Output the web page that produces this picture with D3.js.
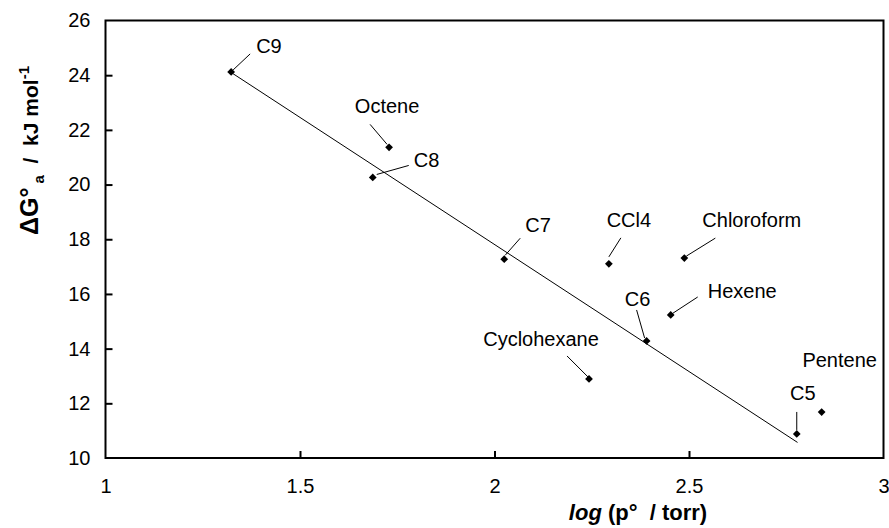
<!DOCTYPE html>
<html>
<head>
<meta charset="utf-8">
<script src="https://cdn.jsdelivr.net/npm/d3@7"></script>
<style>
  body { margin: 0; background: #fff; }
  svg { display: block; font-family: "Liberation Sans", Arial, sans-serif; }
</style>
</head>
<body>
<svg width="889" height="528"></svg>
<script>
// compounds and values
const compounds = ['C9', 'Octene', 'C8', 'C7', 'CCl4', 'Chloroform', 'Hexene', 'C6', 'Cyclohexane', 'C5', 'Pentene'];
const logP = [1.323, 1.729, 1.687, 2.025, 2.294, 2.488, 2.453, 2.391, 2.243, 2.777, 2.841];
const deltaG = [24.12, 21.36, 20.26, 17.27, 17.10, 17.31, 15.23, 14.28, 12.89, 10.88, 11.68];

// straight line drawn through the alkanes
const trendX = [1.323, 2.779];
const trendY = [24.1, 10.57];

const xTicks = [1, 1.5, 2, 2.5, 3];
const yTicks = [10, 12, 14, 16, 18, 20, 22, 24, 26];

// label placement, pixels relative to each point:
// [text x, text baseline, anchor, leader start dx, dy, leader end dx, dy]
const labelLayout = [
  [25, -19, 'start', 2, -2, 19, -18],
  [-2, -34, 'middle', -2, -3, -19, -23],
  [41, -10, 'start', 4, -3, 36, -12],
  [21, -27, 'start', 1, -4, 16, -21],
  [20, -37, 'middle', 0, -7, 12, -26],
  [18, -31, 'start', 2, -2, 31, -20],
  [37, -17, 'start', 1, -1, 27, -18],
  [-9, -35, 'middle', -2, -3, -10, -31],
  [-48, -33, 'middle', -1, -2, -22, -23],
  [6, -34, 'middle', 0, -4, 0, -22],
  [18, -45, 'middle', null, null, null, null]
];

const svg = d3.select('svg');

const x = d3.scaleLinear().domain([1, 3]).range([105.5, 883.5]);
const y = d3.scaleLinear().domain([10, 26]).range([458, 20.5]);

// axes with inward ticks
const xAxis = d3.axisBottom(x).tickValues(xTicks).tickSize(-7).tickPadding(35)
  .tickFormat(d3.format('~g'));
const yAxis = d3.axisLeft(y).tickValues(yTicks).tickSize(-7).tickPadding(15);

const gx = svg.append('g').attr('transform', `translate(0,${y(10)})`).call(xAxis);
const gy = svg.append('g').attr('transform', `translate(${x(1)},0)`).call(yAxis);

[gx, gy].forEach(g => {
  g.select('.domain').remove();
  g.selectAll('.tick line').attr('stroke', '#000').attr('stroke-width', 2);
  g.selectAll('.tick text')
    .attr('fill', '#000')
    .style('font-size', '20px')
    .style('font-family', '"Liberation Sans", Arial, sans-serif');
});
gx.selectAll('.tick text').attr('dy', '0');
gx.selectAll('.tick line').filter(d => d === 1 || d === 3).remove();
gy.selectAll('.tick line').filter(d => d === 10 || d === 26).remove();

// frame
svg.append('rect')
  .attr('x', x(1))
  .attr('y', y(26))
  .attr('width', x(3) - x(1))
  .attr('height', y(10) - y(26))
  .attr('fill', 'none')
  .attr('stroke', '#000')
  .attr('stroke-width', 2);

// trend line
svg.append('line')
  .attr('x1', x(trendX[0]))
  .attr('y1', y(trendY[0]))
  .attr('x2', x(trendX[1]))
  .attr('y2', y(trendY[1]))
  .attr('stroke', '#000')
  .attr('stroke-width', 1);

const pts = compounds.map((name, i) => ({ name, x: logP[i], y: deltaG[i], lay: labelLayout[i] }));

// leader lines
svg.append('g')
  .selectAll('line')
  .data(pts.filter(d => d.lay[3] !== null))
  .enter()
  .append('line')
  .attr('x1', d => x(d.x) + d.lay[3])
  .attr('y1', d => y(d.y) + d.lay[4])
  .attr('x2', d => x(d.x) + d.lay[5])
  .attr('y2', d => y(d.y) + d.lay[6])
  .attr('stroke', '#000')
  .attr('stroke-width', 1);

// markers
svg.append('g')
  .selectAll('path')
  .data(pts)
  .enter()
  .append('path')
  .attr('d', d3.symbol(d3.symbolSquare, 30))
  .attr('transform', d => `translate(${x(d.x)},${y(d.y)}) rotate(45)`)
  .attr('fill', '#000');

// point labels
svg.append('g')
  .selectAll('text')
  .data(pts)
  .enter()
  .append('text')
  .attr('x', d => x(d.x) + d.lay[0])
  .attr('y', d => y(d.y) + d.lay[1])
  .attr('text-anchor', d => d.lay[2])
  .style('font-size', '20px')
  .text(d => d.name);

// x title
const xt = svg.append('text')
  .attr('x', 638)
  .attr('y', 520)
  .attr('text-anchor', 'middle')
  .style('font-size', '22px')
  .style('font-weight', 'bold')
  .attr('xml:space', 'preserve');
xt.append('tspan').style('font-style', 'italic').text('log');
xt.append('tspan').text(' (p\u00b0  / torr)');

// y title
const yt = svg.append('text')
  .attr('transform', 'translate(38,235) rotate(-90)')
  .attr('text-anchor', 'start')
  .style('font-size', '21px')
  .style('font-weight', 'bold')
  .attr('xml:space', 'preserve');
yt.append('tspan').style('font-size', '25px').text('\u0394G\u00b0');
yt.append('tspan').attr('dy', 6).style('font-size', '15px').text(' a');
yt.append('tspan').attr('dy', -6).text('  /  kJ mol');
yt.append('tspan').attr('dy', -9).style('font-size', '15px').text('-1');
</script>
</body>
</html>
